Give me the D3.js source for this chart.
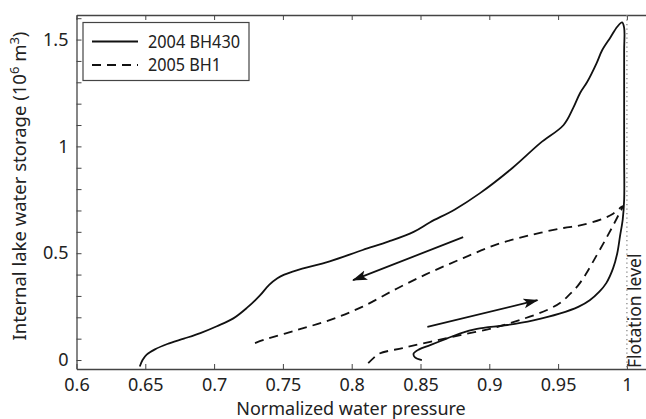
<!DOCTYPE html>
<html>
<head>
<meta charset="utf-8">
<script src="https://cdn.jsdelivr.net/npm/d3@7"></script>
<style>
  html, body { margin: 0; padding: 0; background: #fff; }
  svg { display: block; }
  text { font-family: "Noto Sans", "Open Sans", sans-serif; fill: #222; }
</style>
</head>
<body>
<svg id="chart" width="646" height="419"></svg>
<script>
// 2004 BH430: filling along the lower branch, up to flotation, then drainage back down
const bh430Pressure = [0.851, 0.846, 0.845, 0.849, 0.857, 0.869, 0.879, 0.891, 0.913, 0.932, 0.951, 0.965, 0.973, 0.980, 0.985, 0.990, 0.993, 0.995, 0.997, 0.998, 0.998, 0.998, 0.998, 0.998, 0.9965, 0.993, 0.988, 0.982, 0.978, 0.971, 0.966, 0.961, 0.954, 0.937, 0.917, 0.893, 0.875, 0.857, 0.845, 0.827, 0.808, 0.784, 0.760, 0.751, 0.746, 0.740, 0.733, 0.724, 0.714, 0.702, 0.690, 0.678, 0.666, 0.657, 0.651, 0.648, 0.646];
const bh430Storage  = [0.000, 0.012, 0.030, 0.050, 0.070, 0.100, 0.125, 0.146, 0.164, 0.186, 0.217, 0.250, 0.280, 0.320, 0.360, 0.430, 0.500, 0.580, 0.660, 0.750, 0.950, 1.200, 1.450, 1.555, 1.580, 1.560, 1.510, 1.450, 1.390, 1.300, 1.250, 1.180, 1.100, 1.015, 0.900, 0.780, 0.705, 0.645, 0.600, 0.555, 0.515, 0.462, 0.420, 0.400, 0.383, 0.352, 0.300, 0.245, 0.195, 0.158, 0.126, 0.100, 0.075, 0.050, 0.025, 0.000, -0.030];

// 2005 BH1
const bh1Pressure = [0.812, 0.816, 0.820, 0.837, 0.857, 0.879, 0.903, 0.922, 0.942, 0.952, 0.958, 0.964, 0.970, 0.978, 0.985, 0.990, 0.994, 0.997, 0.990, 0.982, 0.966, 0.954, 0.930, 0.905, 0.881, 0.857, 0.833, 0.808, 0.784, 0.760, 0.736, 0.728];
const bh1Storage  = [-0.015, 0.010, 0.030, 0.056, 0.085, 0.117, 0.150, 0.187, 0.234, 0.270, 0.305, 0.345, 0.400, 0.490, 0.570, 0.630, 0.680, 0.720, 0.685, 0.660, 0.630, 0.618, 0.585, 0.540, 0.477, 0.410, 0.335, 0.250, 0.187, 0.140, 0.094, 0.075];

// direction arrows in data units
const arrowStart = [[0.881, 0.575], [0.855, 0.155]];
const arrowEnd   = [[0.801, 0.374], [0.935, 0.280]];

const xTicks = [0.6, 0.65, 0.7, 0.75, 0.8, 0.85, 0.9, 0.95, 1];
const xTickLabels = ["0.6", "0.65", "0.7", "0.75", "0.8", "0.85", "0.9", "0.95", "1"];
const yMinorTicks = d3.range(0, 17).map(i => i / 10);
const yTicks = [0, 0.5, 1, 1.5];
const yTickLabels = ["0", "0.5", "1", "1.5"];

const seriesNames = ["2004 BH430", "2005 BH1"];
const flotationLevel = 1;

const svg = d3.select("#chart");
const x = d3.scaleLinear().domain([0.6, 1.05]).range([76.5, 695.7]);
const y = d3.scaleLinear().domain([-0.042, 1.615]).range([369, 15]);

const axisColor = "#444";
const fs = 18;

// axes frame
const g = svg.append("g");
const xAxis = g.append("g").attr("transform", `translate(0,${y.range()[0]})`)
  .call(d3.axisBottom(x).tickValues(xTicks).tickSizeInner(-5).tickSizeOuter(0)
    .tickFormat((d, i) => xTickLabels[i]).tickPadding(9));
const xAxisTop = g.append("g").attr("transform", `translate(0,${y.range()[1]})`)
  .call(d3.axisTop(x).tickValues(xTicks).tickSizeInner(-5).tickSizeOuter(0).tickFormat(""));
const yAxis = g.append("g").attr("transform", `translate(${x.range()[0]},0)`)
  .call(d3.axisLeft(y).tickValues(yMinorTicks).tickSizeInner(-5).tickSizeOuter(0)
    .tickFormat(d => { const k = yTicks.findIndex(t => Math.abs(t - d) < 1e-9); return k >= 0 ? yTickLabels[k] : ""; })
    .tickPadding(8));
[xAxis, xAxisTop, yAxis].forEach(a => {
  a.select(".domain").attr("stroke", axisColor).attr("stroke-width", 1.3);
  a.selectAll(".tick line").attr("stroke", axisColor).attr("stroke-width", 1);
  a.selectAll(".tick text").attr("font-size", fs).attr("fill", "#222")
    .attr("font-family", "'Noto Sans', sans-serif");
});
xAxis.selectAll(".tick text").attr("dy", "0.72em");

// flotation level
g.append("line")
  .attr("x1", x(flotationLevel)).attr("x2", x(flotationLevel))
  .attr("y1", y.range()[1]).attr("y2", y.range()[0])
  .attr("stroke", "#888").attr("stroke-width", 1.3).attr("stroke-dasharray", "1.3,3.2");
g.append("text")
  .attr("transform", `translate(${x(flotationLevel) + 14},${y.range()[0] - 1}) rotate(-90)`)
  .attr("font-size", 17.5).text("Flotation level");

// curves
const line = d3.line().x(d => x(d[0])).y(d => y(d[1])).curve(d3.curveCatmullRom.alpha(0.5));
const bh430 = bh430Pressure.map((p, i) => [p, bh430Storage[i]]);
const bh1 = bh1Pressure.map((p, i) => [p, bh1Storage[i]]);
g.append("path").datum(bh430).attr("d", line)
  .attr("fill", "none").attr("stroke", "#111").attr("stroke-width", 1.8);
g.append("path").datum(bh1).attr("d", line)
  .attr("fill", "none").attr("stroke", "#111").attr("stroke-width", 1.8).attr("stroke-dasharray", "9,6");

// arrows
svg.append("defs").append("marker")
  .attr("id", "head").attr("viewBox", "0 0 15 11").attr("refX", 14).attr("refY", 5.5)
  .attr("markerWidth", 15).attr("markerHeight", 11).attr("markerUnits", "userSpaceOnUse")
  .attr("orient", "auto")
  .append("path").attr("d", "M0,0.5 L15,5.5 L0,10.5 L3.5,5.5 Z").attr("fill", "#111");
arrowStart.forEach((s, i) => {
  g.append("line")
    .attr("x1", x(s[0])).attr("y1", y(s[1]))
    .attr("x2", x(arrowEnd[i][0])).attr("y2", y(arrowEnd[i][1]))
    .attr("stroke", "#111").attr("stroke-width", 1.8).attr("marker-end", "url(#head)");
});

// axis titles
g.append("text").attr("x", 351).attr("y", 415).attr("text-anchor", "middle")
  .attr("font-size", fs).text("Normalized water pressure");
const yl = g.append("text").attr("transform", "translate(26,186) rotate(-90)")
  .attr("text-anchor", "middle").attr("font-size", fs + 0.5);
yl.append("tspan").text("Internal lake water storage (10");
yl.append("tspan").attr("font-size", 13).attr("dy", -7).text("6");
yl.append("tspan").attr("dy", 7).text(" m");
yl.append("tspan").attr("font-size", 13).attr("dy", -7).text("3");
yl.append("tspan").attr("dy", 7).text(")");

// legend
const lg = g.append("g");
lg.append("rect").attr("x", 83).attr("y", 22.5).attr("width", 166).attr("height", 58)
  .attr("fill", "#fff").attr("stroke", axisColor).attr("stroke-width", 1.2);
seriesNames.forEach((name, i) => {
  const yy = 41.5 + i * 23.5;
  lg.append("line").attr("x1", 92).attr("x2", 138).attr("y1", yy).attr("y2", yy)
    .attr("stroke", "#111").attr("stroke-width", 1.8)
    .attr("stroke-dasharray", i === 1 ? "9,6" : null);
  lg.append("text").attr("x", 148).attr("y", yy).attr("dy", "0.36em")
    .attr("font-size", 17.5)
    .attr("textLength", i === 0 ? 92 : 73).attr("lengthAdjust", "spacingAndGlyphs")
    .text(name);
});
</script>
</body>
</html>
